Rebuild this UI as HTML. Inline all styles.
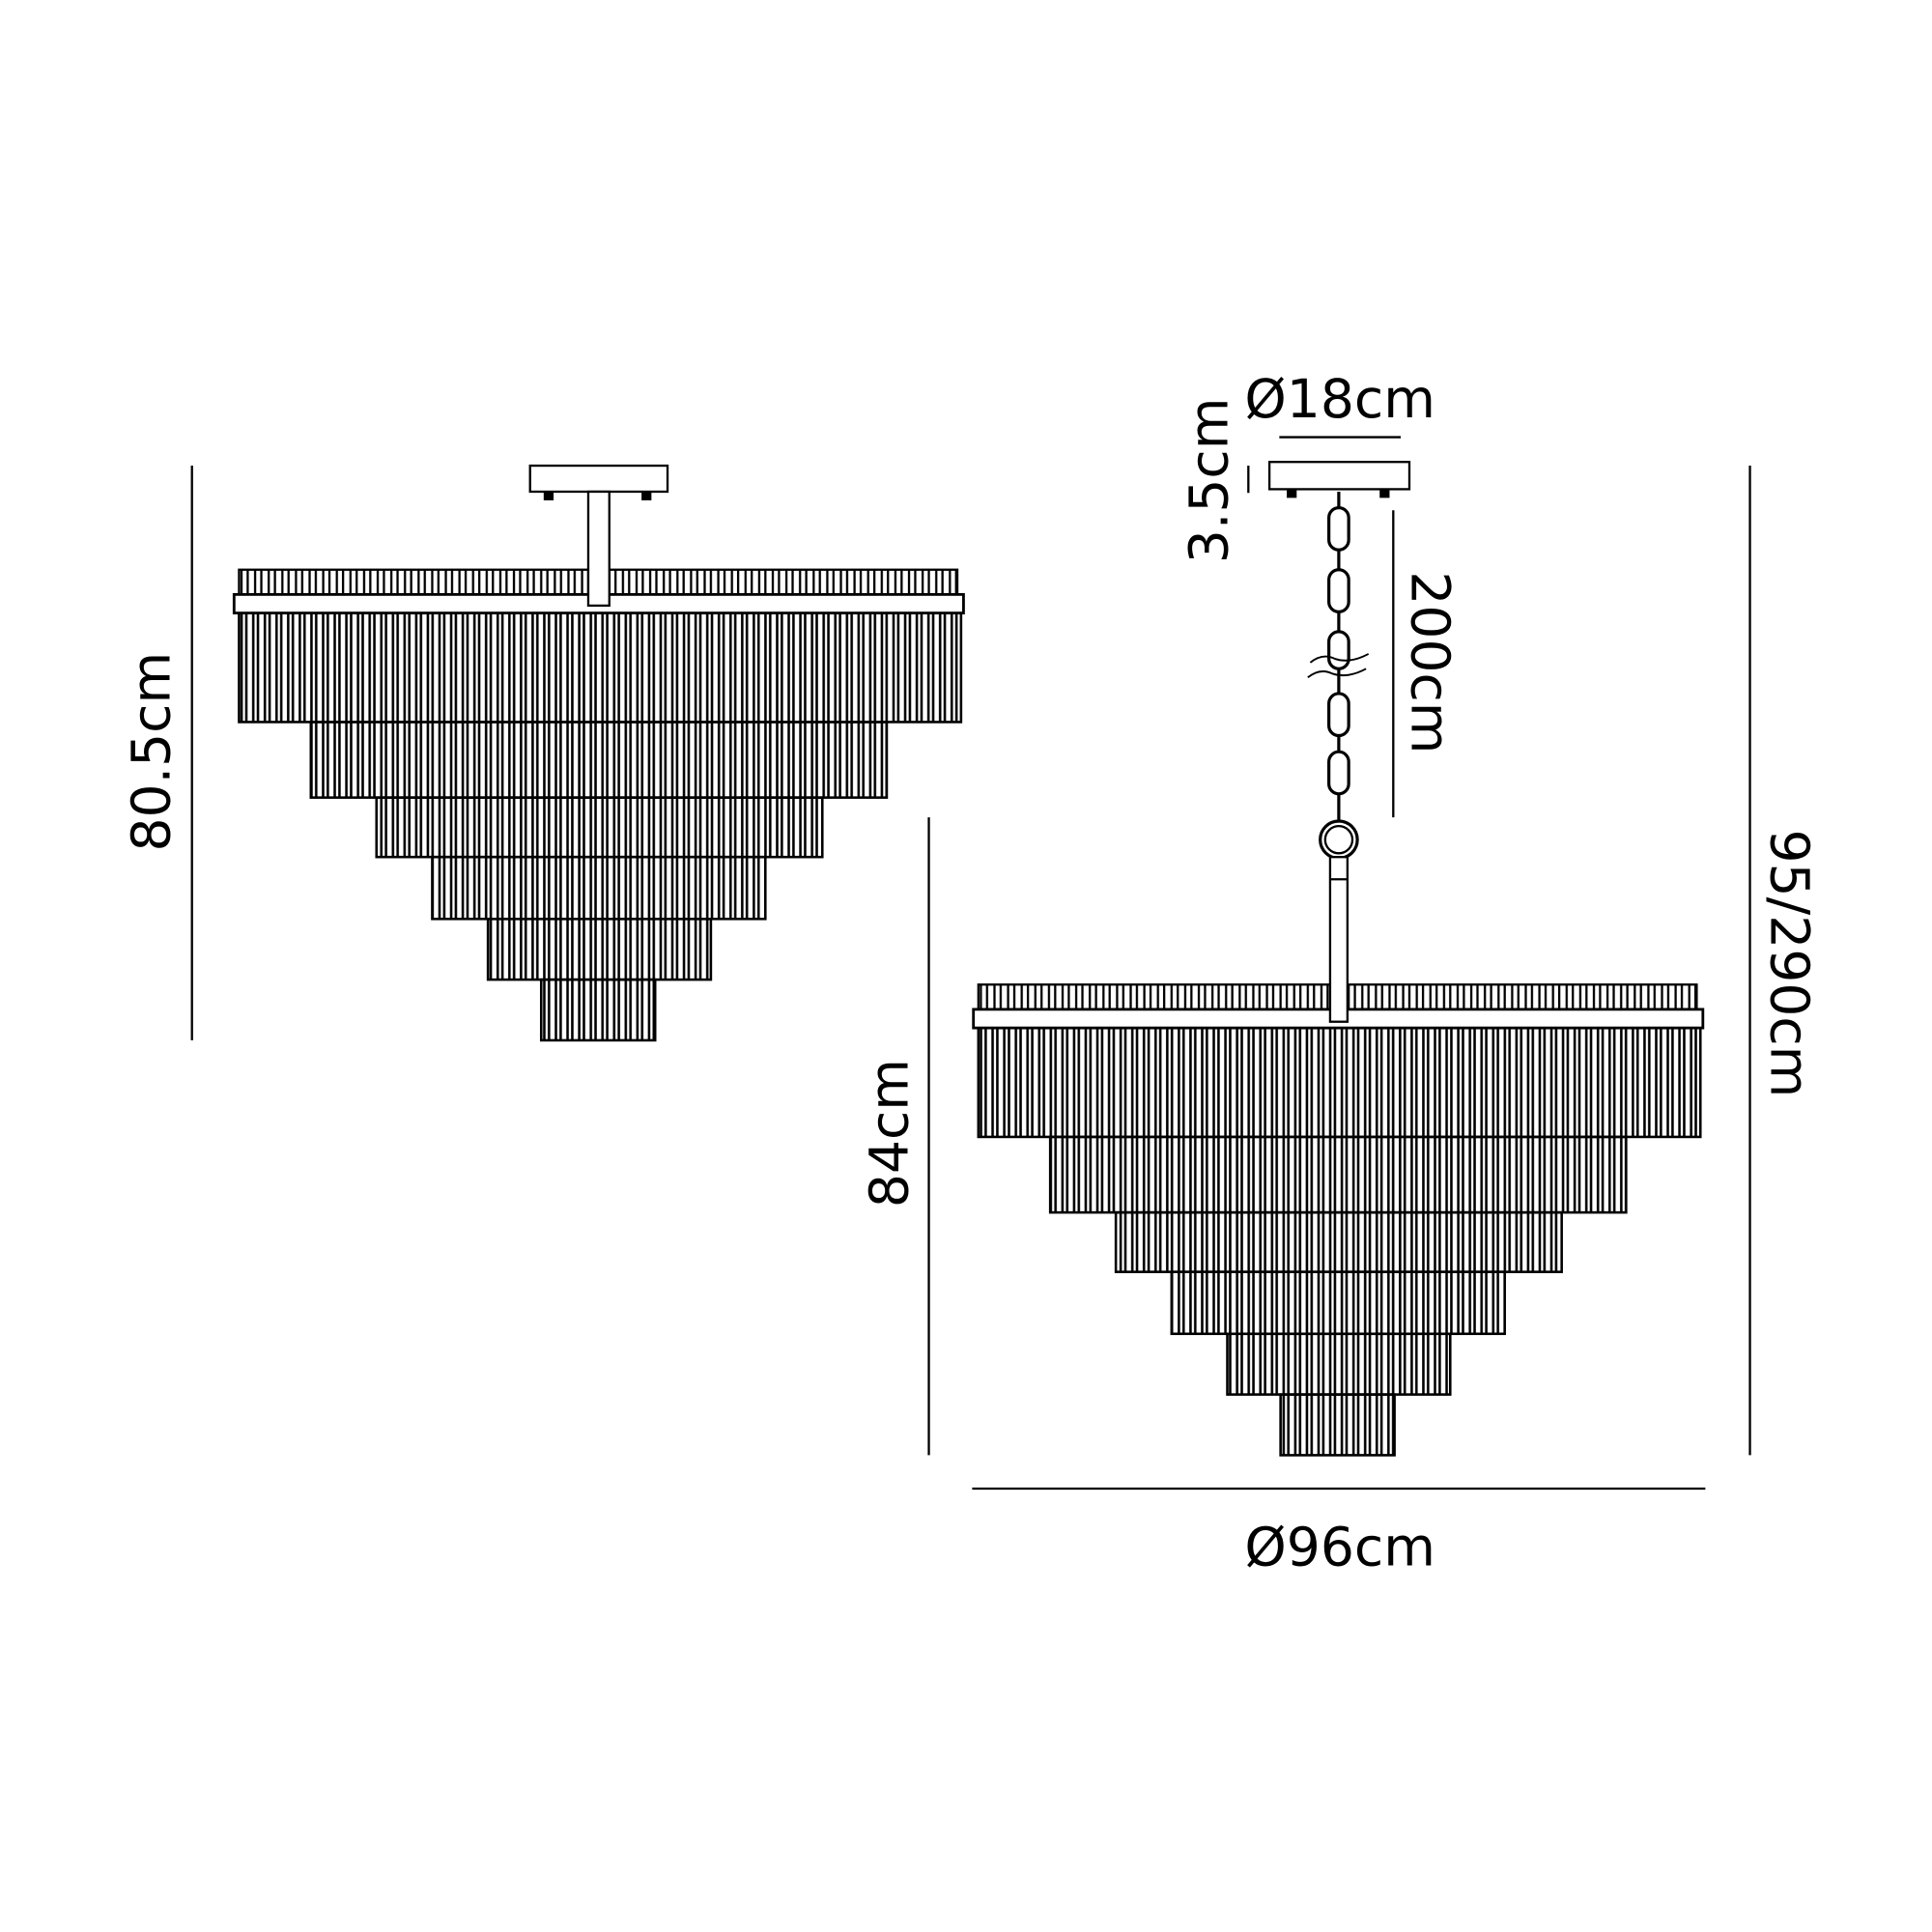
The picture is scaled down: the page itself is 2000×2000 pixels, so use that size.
<!DOCTYPE html>
<html><head><meta charset="utf-8"><style>html,body{margin:0;padding:0;background:#fff}svg{display:block}</style></head><body>
<svg width="2000" height="2000" viewBox="0 0 1560 1560" xmlns="http://www.w3.org/2000/svg">
<defs>
<pattern id="tubes" width="9.4" height="400" patternUnits="userSpaceOnUse">
<rect x="1.5" y="-5" width="5.6" height="420" fill="none" stroke="#000" stroke-width="2"/>
</pattern>
<pattern id="fr" width="11" height="30" patternUnits="userSpaceOnUse">
<path d="M2 30 V3.5 a3 3 0 0 1 6 0 V30" fill="none" stroke="#000" stroke-width="1.8"/>
</pattern>
<g id="ch">
<rect x="193" y="460" width="580" height="22" fill="url(#fr)"/>
<rect x="193" y="495" width="583" height="88" fill="url(#tubes)" stroke="#000" stroke-width="2"/>
<rect x="251" y="583" width="465" height="61" fill="url(#tubes)" stroke="#000" stroke-width="2"/>
<rect x="304" y="644" width="360" height="48" fill="url(#tubes)" stroke="#000" stroke-width="2"/>
<rect x="349" y="692" width="269" height="50" fill="url(#tubes)" stroke="#000" stroke-width="2"/>
<rect x="394" y="742" width="180" height="49" fill="url(#tubes)" stroke="#000" stroke-width="2"/>
<rect x="437" y="791" width="92" height="49" fill="url(#tubes)" stroke="#000" stroke-width="2"/>
<rect x="189" y="480" width="589" height="15" fill="#fff" stroke="#000" stroke-width="2.2"/>
</g>
</defs>
<g fill="none" stroke="#000" stroke-width="1.8">
<use href="#ch"/>
<rect x="428" y="376" width="111" height="21" fill="#fff"/>
<rect x="475" y="397" width="17" height="92" fill="#fff"/>
<line x1="155" y1="376" x2="155" y2="840"/>
<use href="#ch" transform="translate(597,335)"/>
<rect x="1025" y="373" width="113" height="22" fill="#fff"/>
<line x1="1081" y1="397" x2="1081" y2="663" stroke-width="2.5"/>
<g stroke-width="2.5">
<rect x="1073" y="410" width="16" height="34" rx="8" fill="#fff"/>
<rect x="1073" y="460" width="16" height="34" rx="8" fill="#fff"/>
<rect x="1073" y="510" width="16" height="30" rx="8" fill="#fff"/>
<rect x="1073" y="560" width="16" height="34" rx="8" fill="#fff"/>
<rect x="1073" y="607" width="16" height="34" rx="8" fill="#fff"/>
<circle cx="1081" cy="678" r="15" fill="#fff"/>
</g>
<circle cx="1081" cy="678" r="11"/>
<rect x="1074" y="692" width="14" height="133" fill="#fff"/>
<line x1="1074" y1="710" x2="1088" y2="710"/>
<path d="M1058 535 q10 -8 20 -3 q12 4 27 -4" stroke-width="1.5"/>
<path d="M1056 547 q10 -8 20 -3 q12 4 27 -4" stroke-width="1.5"/>
<line x1="1033" y1="353" x2="1131" y2="353"/>
<line x1="1008" y1="376" x2="1008" y2="398"/>
<line x1="1125" y1="412" x2="1125" y2="660"/>
<line x1="750" y1="660" x2="750" y2="1175"/>
<line x1="1413" y1="376" x2="1413" y2="1175"/>
<line x1="785" y1="1202" x2="1377" y2="1202"/>
</g>
<g fill="#000">
<rect x="439" y="397" width="8" height="7"/><rect x="518" y="397" width="8" height="7"/>
<rect x="1039" y="395" width="8" height="7"/><rect x="1114" y="395" width="8" height="7"/>
</g>
<g font-family="'DejaVu Sans','Liberation Sans',sans-serif" font-size="43" fill="#000" text-anchor="middle">
<text transform="translate(137,607) rotate(-90)">80.5cm</text>
<text transform="translate(733,915) rotate(-90)">84cm</text>
<text transform="translate(1430,778) rotate(90)">95/290cm</text>
<text transform="translate(1140,535) rotate(90)">200cm</text>
<text transform="translate(991,388) rotate(-90)">3.5cm</text>
<text x="1082" y="337">Ø18cm</text>
<text x="1082" y="1264">Ø96cm</text>
</g>
</svg>
</body></html>
